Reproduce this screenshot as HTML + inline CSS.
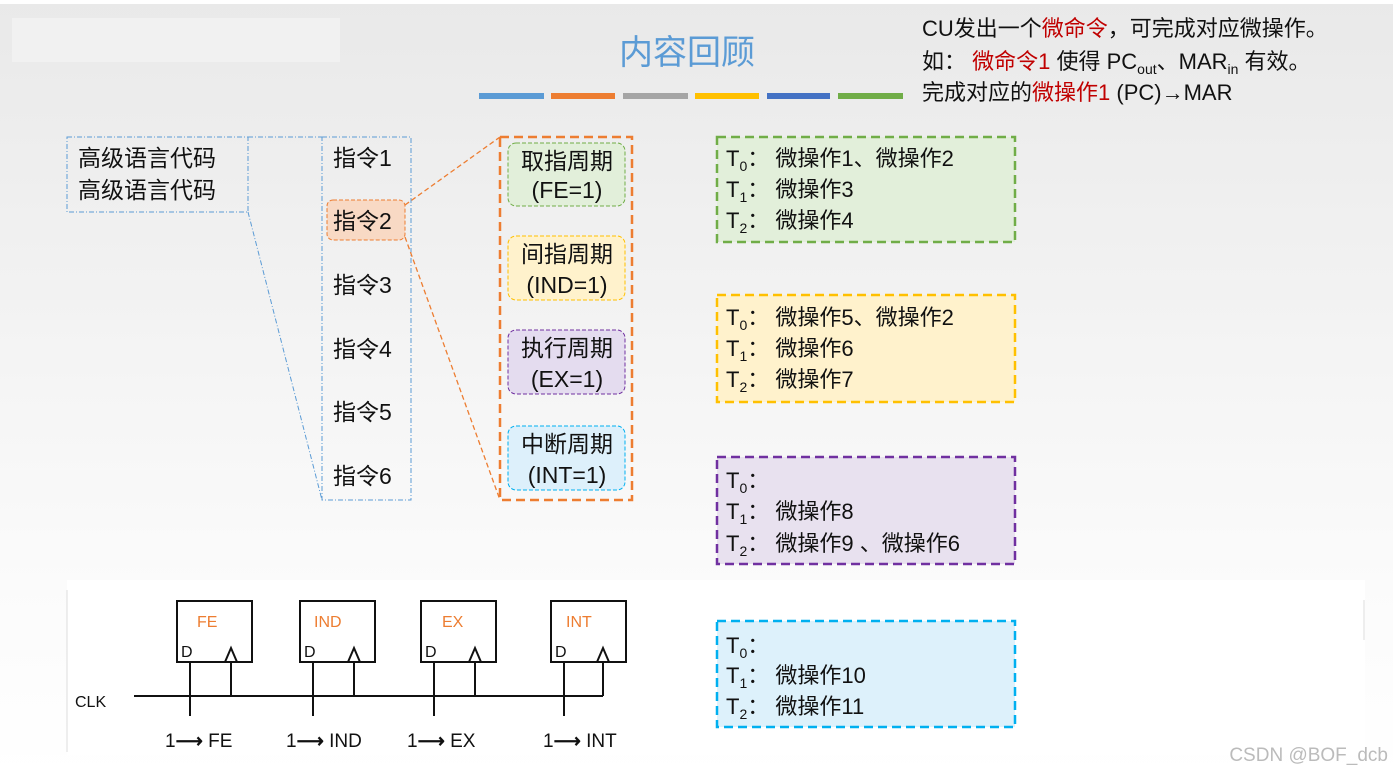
<!DOCTYPE html>
<html><head><meta charset="utf-8"><style>
html,body{margin:0;padding:0;width:1393px;height:777px;overflow:hidden;background:#fff}
svg{display:block}
text{font-family:"Liberation Sans","Noto Sans CJK SC",sans-serif}
</style></head><body>
<svg width="1393" height="777" xmlns="http://www.w3.org/2000/svg">
<defs><linearGradient id="bg" x1="0" y1="0" x2="0" y2="1">
<stop offset="0" stop-color="#e9e9e9"/><stop offset="0.75" stop-color="#fbfbfb"/><stop offset="1" stop-color="#ffffff"/></linearGradient></defs>
<rect width="1393" height="777" fill="url(#bg)"/>
<rect x="0" y="0" width="1393" height="4" fill="#fff"/>
<rect x="12" y="18" width="328" height="44" fill="#f1f1f1"/>
<rect x="67" y="580" width="1298" height="175" fill="#fff"/>
<line x1="67" y1="590" x2="67" y2="752" stroke="#ddd"/>
<line x1="1364" y1="600" x2="1364" y2="640" stroke="#ddd"/>
<text x="687" y="64" font-size="34" fill="#5b9bd5" text-anchor="middle">内容回顾</text>
<g stroke-width="6">
<line x1="479" y1="96" x2="544" y2="96" stroke="#5b9bd5"/>
<line x1="551" y1="96" x2="615" y2="96" stroke="#ed7d31"/>
<line x1="623" y1="96" x2="688" y2="96" stroke="#a5a5a5"/>
<line x1="695" y1="96" x2="759" y2="96" stroke="#ffc000"/>
<line x1="767" y1="96" x2="830" y2="96" stroke="#4472c4"/>
<line x1="838" y1="96" x2="903" y2="96" stroke="#70ad47"/>
</g>
<g font-size="22" fill="#111">
<text x="922" y="36">CU发出一个<tspan fill="#c00000">微命令</tspan>，可完成对应微操作。</text>
<text x="922" y="69">如： <tspan fill="#c00000">微命令1</tspan> 使得 PC<tspan font-size="14" dy="5">out</tspan><tspan dy="-5">、MAR</tspan><tspan font-size="14" dy="5">in</tspan><tspan dy="-5"> 有效。</tspan></text>
<text x="922" y="100">完成对应的<tspan fill="#c00000">微操作1</tspan> (PC)<tspan font-weight="bold">→</tspan>MAR</text>
</g>
<g fill="none" stroke="#5b9bd5" stroke-width="1" stroke-dasharray="5,2,1,2">
<rect x="67" y="137" width="181" height="75"/>
<rect x="322" y="137" width="89" height="363"/>
<line x1="248" y1="137" x2="322" y2="137"/>
<line x1="248" y1="212" x2="322" y2="500"/>
</g>
<g font-size="23" fill="#111">
<text x="78" y="166">高级语言代码</text>
<text x="78" y="198">高级语言代码</text>
<text x="333" y="166">指令1</text>
<text x="333" y="293">指令3</text>
<text x="333" y="357">指令4</text>
<text x="333" y="420">指令5</text>
<text x="333" y="484">指令6</text>
</g>
<rect x="327" y="200" width="78" height="40" rx="6" fill="#f8d9c4" stroke="#ed7d31" stroke-dasharray="4,2"/>
<text x="333" y="229" font-size="23" fill="#111">指令2</text>
<g stroke="#ed7d31" stroke-width="1.3" stroke-dasharray="5,3" fill="none">
<line x1="405" y1="205" x2="500" y2="137"/>
<line x1="405" y1="237" x2="500" y2="500"/>
</g>
<rect x="500" y="137" width="132" height="363" fill="none" stroke="#ed7d31" stroke-width="2.5" stroke-dasharray="9,5"/>
<rect x="508" y="143" width="117" height="63" rx="8" fill="#e2efda" stroke="#70ad47" stroke-dasharray="4,2"/>
<rect x="508" y="236" width="117" height="64" rx="8" fill="#fff2cc" stroke="#ffc000" stroke-dasharray="4,2"/>
<rect x="508" y="330" width="117" height="64" rx="8" fill="#e4dcef" stroke="#7030a0" stroke-dasharray="4,2"/>
<rect x="508" y="426" width="117" height="64" rx="8" fill="#ddf0fb" stroke="#00b0f0" stroke-dasharray="4,2"/>
<g font-size="23" fill="#111" text-anchor="middle">
<text x="567" y="169">取指周期</text><text x="567" y="198">(FE=1)</text>
<text x="567" y="262">间指周期</text><text x="567" y="293">(IND=1)</text>
<text x="567" y="356">执行周期</text><text x="567" y="387">(EX=1)</text>
<text x="567" y="452">中断周期</text><text x="567" y="483">(INT=1)</text>
</g>
<g stroke-width="2.5" stroke-dasharray="9,5">
<rect x="717" y="137" width="298" height="105" fill="#e2efda" stroke="#70ad47"/>
<rect x="717" y="295" width="298" height="107" fill="#fff2cc" stroke="#ffc000"/>
<rect x="717" y="457" width="298" height="107" fill="#e8e1ef" stroke="#7030a0"/>
<rect x="717" y="621" width="298" height="106" fill="#ddf1fb" stroke="#00b0f0"/>
</g>
<g font-size="22" fill="#111">
<text x="726" y="166">T<tspan font-size="14" dy="5">0</tspan><tspan dy="-5">： 微操作1、微操作2</tspan></text>
<text x="726" y="197">T<tspan font-size="14" dy="5">1</tspan><tspan dy="-5">： 微操作3</tspan></text>
<text x="726" y="228">T<tspan font-size="14" dy="5">2</tspan><tspan dy="-5">： 微操作4</tspan></text>
<text x="726" y="325">T<tspan font-size="14" dy="5">0</tspan><tspan dy="-5">： 微操作5、微操作2</tspan></text>
<text x="726" y="356">T<tspan font-size="14" dy="5">1</tspan><tspan dy="-5">： 微操作6</tspan></text>
<text x="726" y="387">T<tspan font-size="14" dy="5">2</tspan><tspan dy="-5">： 微操作7</tspan></text>
<text x="726" y="488">T<tspan font-size="14" dy="5">0</tspan><tspan dy="-5">：</tspan></text>
<text x="726" y="519">T<tspan font-size="14" dy="5">1</tspan><tspan dy="-5">： 微操作8</tspan></text>
<text x="726" y="551">T<tspan font-size="14" dy="5">2</tspan><tspan dy="-5">： 微操作9 、微操作6</tspan></text>
<text x="726" y="653">T<tspan font-size="14" dy="5">0</tspan><tspan dy="-5">：</tspan></text>
<text x="726" y="683">T<tspan font-size="14" dy="5">1</tspan><tspan dy="-5">： 微操作10</tspan></text>
<text x="726" y="714">T<tspan font-size="14" dy="5">2</tspan><tspan dy="-5">： 微操作11</tspan></text>
</g>
<g stroke="#111" stroke-width="2" fill="none">
<line x1="134" y1="696" x2="603" y2="696"/>
<rect x="177" y="601" width="75" height="61"/>
<rect x="300" y="601" width="75" height="61"/>
<rect x="421" y="601" width="75" height="61"/>
<rect x="551" y="601" width="75" height="61"/>
<line x1="190" y1="662" x2="190" y2="716"/><line x1="231" y1="662" x2="231" y2="696"/>
<line x1="313" y1="662" x2="313" y2="716"/><line x1="354" y1="662" x2="354" y2="696"/>
<line x1="434" y1="662" x2="434" y2="716"/><line x1="475" y1="662" x2="475" y2="696"/>
<line x1="564" y1="662" x2="564" y2="716"/><line x1="603" y1="662" x2="603" y2="696"/>
<polyline points="225,662 231,648 237,662"/>
<polyline points="348,662 354,648 360,662"/>
<polyline points="469,662 475,648 481,662"/>
<polyline points="597,662 603,648 609,662"/>
</g>
<g font-size="16" fill="#ed7d31">
<text x="197" y="627">FE</text><text x="314" y="627">IND</text><text x="442" y="627">EX</text><text x="566" y="627">INT</text>
</g>
<g font-size="16" fill="#111">
<text x="181" y="657">D</text><text x="304" y="657">D</text><text x="425" y="657">D</text><text x="555" y="657">D</text>
<text x="75" y="707">CLK</text>
</g>
<g font-size="19" fill="#111">
<text x="165" y="747">1<tspan font-weight="bold">⟶</tspan> FE</text><text x="286" y="747">1<tspan font-weight="bold">⟶</tspan> IND</text><text x="407" y="747">1<tspan font-weight="bold">⟶</tspan> EX</text><text x="543" y="747">1<tspan font-weight="bold">⟶</tspan> INT</text>
</g>
<text x="1388" y="761" font-size="19" fill="#bbb" text-anchor="end">CSDN @BOF_dcb</text>
</svg>
</body></html>
